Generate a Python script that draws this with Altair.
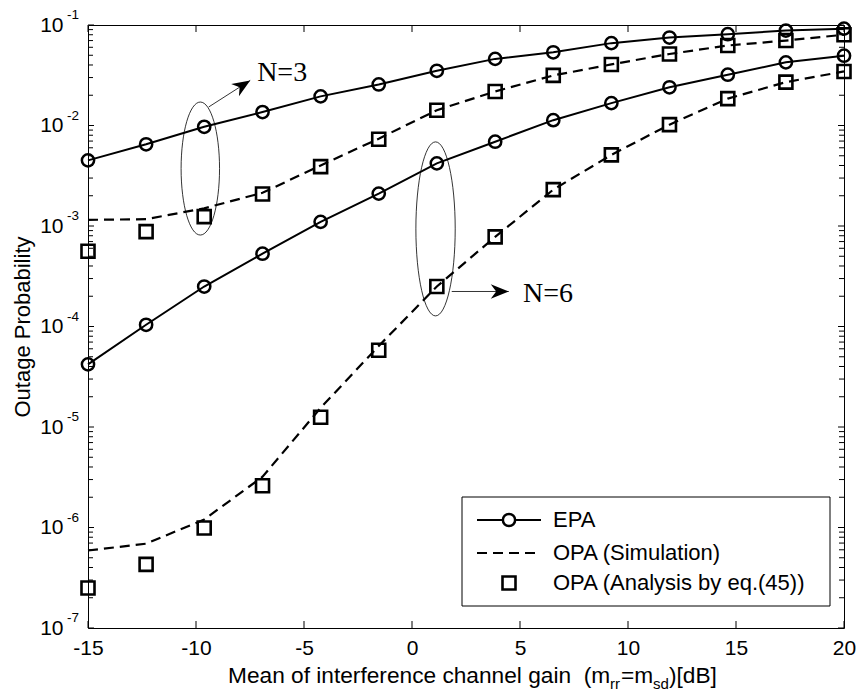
import altair as alt
import pandas as pd

# ---------------- data ----------------
x_vals = [-15, -12.31, -9.62, -6.92, -4.23, -1.54, 1.15, 3.85, 6.54, 9.23, 11.92, 14.62, 17.31, 20]

epa_n3 = [4.5e-3, 6.5e-3, 9.7e-3, 1.36e-2, 1.95e-2, 2.56e-2, 3.5e-2, 4.6e-2, 5.35e-2, 6.6e-2, 7.5e-2, 8.1e-2, 8.8e-2, 9.2e-2]
opa_sim_n3 = [1.15e-3, 1.17e-3, 1.5e-3, 2.14e-3, 4.0e-3, 7.4e-3, 1.42e-2, 2.18e-2, 3.15e-2, 4.05e-2, 5.15e-2, 6.25e-2, 7.0e-2, 8.0e-2]
opa_ana_n3 = [5.6e-4, 8.8e-4, 1.24e-3, 2.08e-3, 3.9e-3, 7.3e-3, 1.42e-2, 2.18e-2, 3.15e-2, 4.05e-2, 5.15e-2, 6.25e-2, 7.0e-2, 8.0e-2]

epa_n6 = [4.2e-5, 1.04e-4, 2.5e-4, 5.3e-4, 1.1e-3, 2.1e-3, 4.2e-3, 6.9e-3, 1.13e-2, 1.67e-2, 2.4e-2, 3.2e-2, 4.25e-2, 4.95e-2]
opa_sim_n6 = [5.9e-7, 6.9e-7, 1.2e-6, 3.2e-6, 1.55e-5, 6.4e-5, 2.5e-4, 7.8e-4, 2.3e-3, 5.1e-3, 1.02e-2, 1.85e-2, 2.7e-2, 3.45e-2]
opa_ana_n6 = [2.5e-7, 4.3e-7, 9.9e-7, 2.6e-6, 1.25e-5, 5.8e-5, 2.5e-4, 7.8e-4, 2.3e-3, 5.1e-3, 1.02e-2, 1.85e-2, 2.7e-2, 3.45e-2]

x_ticks = [-15, -10, -5, 0, 5, 10, 15, 20]
y_decades = [1e-7, 1e-6, 1e-5, 1e-4, 1e-3, 1e-2, 1e-1]
y_exponents = ["-7", "-6", "-5", "-4", "-3", "-2", "-1"]
y_minor = [m * d for d in y_decades[:-1] for m in range(2, 10)]

series_names = ["EPA", "OPA (Simulation)", "OPA (Analysis by eq.(45))"]
group_labels = ["N=3", "N=6"]

# annotation anchors (data units)
ell3 = {"x": [-9.80], "y": [3.73e-3]}
ell6 = {"x": [1.09], "y": [9.36e-4]}
arrow3 = {"x": [-9.41], "y": [1.53e-2], "x2": [-7.49], "y2": [2.81e-2]}
arrow6 = {"x": [1.84], "y": [2.23e-4], "x2": [4.48], "y2": [2.23e-4]}
label3 = {"x": [-7.17], "y": [2.76e-2]}
label6 = {"x": [5.14], "y": [1.77e-4]}

W, H = 756, 603
SANS = "Liberation Sans"
SERIF = "Liberation Serif"


def long(vals_a, vals_b):
    return pd.DataFrame({
        "x": x_vals + x_vals,
        "y": vals_a + vals_b,
        "N": [group_labels[0]] * len(x_vals) + [group_labels[1]] * len(x_vals),
    })


df_epa = long(epa_n3, epa_n6)
df_sim = long(opa_sim_n3, opa_sim_n6)
df_ana = long(opa_ana_n3, opa_ana_n6)

xscale = alt.Scale(domain=[-15, 20], nice=False, zero=False)
yscale = alt.Scale(type="log", domain=[1e-7, 1e-1], nice=False)

X = alt.X("x:Q", scale=xscale,
          axis=alt.Axis(values=x_ticks, labelExpr="'' + datum.value", ticks=False, domain=False,
                        grid=False, labelFontSize=21, labelPadding=9, title=None,
                        labelFont=SANS, labelColor="black", labelFlush=False))
Y = alt.Y("y:Q", scale=yscale,
          axis=alt.Axis(values=y_decades, labelExpr="'10'", ticks=False, domain=False,
                        grid=False, labelFontSize=21, labelPadding=25,
                        labelFont=SANS, labelColor="black", labelFlush=False,
                        title="Outage Probability", titleFontSize=22,
                        titleFont=SANS, titleFontWeight="normal", titleColor="black",
                        titlePadding=5))
Xn = alt.X("x:Q", scale=xscale)
Yn = alt.Y("y:Q", scale=yscale)

epa_lines = alt.Chart(df_epa).mark_line(color="black", strokeWidth=2).encode(x=X, y=Y, detail="N:N")
sim_lines = alt.Chart(df_sim).mark_line(color="black", strokeWidth=2.2, strokeDash=[10, 6]).encode(
    x=Xn, y=Yn, detail="N:N")
epa_pts = alt.Chart(df_epa).mark_point(shape="circle", size=150, filled=False, color="black",
                                       strokeWidth=2.5, opacity=1).encode(x=Xn, y=Yn)
ana_pts = alt.Chart(df_ana).mark_point(shape="square", size=169, filled=False, color="black",
                                       strokeWidth=2.6, opacity=1).encode(x=Xn, y=Yn)

# inward ticks
def tickpts(xs, ys, path, size):
    return alt.Chart(pd.DataFrame({"x": xs, "y": ys})).mark_point(
        shape=path, size=size, filled=False, color="black", strokeWidth=1, opacity=1
    ).encode(x=Xn, y=Yn)

ticks = [
    tickpts(x_ticks, [y_decades[0]] * len(x_ticks), "M0,0V-1", 196),
    tickpts(x_ticks, [y_decades[-1]] * len(x_ticks), "M0,0V1", 196),
    tickpts([x_ticks[0]] * len(y_decades), y_decades, "M0,0H1", 144),
    tickpts([x_ticks[-1]] * len(y_decades), y_decades, "M0,0H-1", 144),
    tickpts([x_ticks[0]] * len(y_minor), y_minor, "M0,0H1", 100),
    tickpts([x_ticks[-1]] * len(y_minor), y_minor, "M0,0H-1", 100),
]

# exponents of the y tick labels
exps = alt.Chart(pd.DataFrame({"x": [x_ticks[0]] * len(y_decades), "y": y_decades, "e": y_exponents})).mark_text(
    align="right", baseline="middle", dx=-9, dy=-10, fontSize=13.5, font=SANS, color="black"
).encode(x=Xn, y=Yn, text="e:N")

# ellipses, arrows and group labels
def ellipse(d, ratio, half_h, sw=0.8):
    path = f"M0,-1A{ratio},1 0 1,1 0,1A{ratio},1 0 1,1 0,-1Z"
    return alt.Chart(pd.DataFrame(d)).mark_point(
        shape=path, size=(2 * half_h) ** 2, filled=False, color="black", strokeWidth=sw, opacity=1
    ).encode(x=Xn, y=Yn)

head_path = "M0,0L-0.4,1L0,0.7L0.4,1Z"

def arrow(d, angle, head_len=18):
    df = pd.DataFrame(d)
    line = alt.Chart(df).mark_rule(color="black", strokeWidth=0.8).encode(
        x=Xn, y=Yn, x2="x2:Q", y2="y2:Q")
    head = alt.Chart(pd.DataFrame({"x": d["x2"], "y": d["y2"]})).mark_point(
        shape=head_path, size=(2 * head_len) ** 2, filled=True, color="black", opacity=1,
        angle=angle, strokeWidth=0
    ).encode(x=Xn, y=Yn)
    return [line, head]

def glabel(d, txt):
    df = pd.DataFrame(d)
    df["t"] = txt
    return alt.Chart(df).mark_text(align="left", baseline="alphabetic", fontSize=28,
                                   font=SERIF, color="black").encode(x=Xn, y=Yn, text="t:N")

annots = [ellipse(ell3, 0.289, 66.5), ellipse(ell6, 0.226, 87)]
annots += arrow(arrow3, 57.4) + arrow(arrow6, 90)
annots += [glabel(label3, group_labels[0]), glabel(label6, group_labels[1])]

# x-axis title with subscripts
def ptext(txt, x, y, size, align="left"):
    return alt.Chart(pd.DataFrame({"t": [txt]})).mark_text(
        align=align, baseline="alphabetic", fontSize=size, font=SANS, color="black"
    ).encode(x=alt.value(x), y=alt.value(y), text="t:N")

TB = 658
TX = 140
xtitle = [
    ptext("Mean of interference channel gain\u00a0 (m", TX, TB, 22.7),
    ptext("rr", TX + 382, TB + 6, 15),
    ptext("=m", TX + 393, TB, 22.7),
    ptext("sd", TX + 425, TB + 6, 15),
    ptext(")[dB]", TX + 441, TB, 22.7),
]

# legend (box, samples, labels)
one = pd.DataFrame({"k": [0]})
LT = 472
LX = 374
leg_box = alt.Chart(one).mark_rect(fill="white", stroke="black", strokeWidth=1).encode(
    x=alt.value(LX), x2=alt.value(LX + 368), y=alt.value(LT), y2=alt.value(LT + 109))
leg_l1 = alt.Chart(one).mark_rule(color="black", strokeWidth=2).encode(
    x=alt.value(LX + 15), x2=alt.value(LX + 79), y=alt.value(LT + 23))
leg_c1 = alt.Chart(one).mark_point(shape="circle", size=150, filled=False, color="black",
                                   strokeWidth=2.5, opacity=1, fill="white").encode(
    x=alt.value(LX + 47), y=alt.value(LT + 23))
leg_l2 = alt.Chart(one).mark_rule(color="black", strokeWidth=2.2, strokeDash=[10, 6]).encode(
    x=alt.value(LX + 15), x2=alt.value(LX + 79), y=alt.value(LT + 56))
leg_s3 = alt.Chart(one).mark_point(shape="square", size=169, filled=False, color="black",
                                   strokeWidth=2.6, opacity=1).encode(
    x=alt.value(LX + 47), y=alt.value(LT + 86))
leg_txt = [
    alt.Chart(pd.DataFrame({"t": [name]})).mark_text(
        align="left", baseline="middle", fontSize=22, font=SANS, color="black"
    ).encode(x=alt.value(LX + 91), y=alt.value(yy), text="t:N")
    for name, yy in zip(series_names, [LT + 23, LT + 56, LT + 86])
]
legend = [leg_box, leg_l1, leg_c1, leg_l2, leg_s3] + leg_txt

chart = alt.layer(
    epa_lines, sim_lines, epa_pts, ana_pts, exps, *ticks, *annots, *xtitle, *legend
).properties(
    width=W, height=H,
    autosize=alt.AutoSizeParams(type="none"),
    padding={"left": 80, "top": 17, "right": 12, "bottom": 63},
    background="white",
).configure_view(stroke="black", strokeWidth=1)

chart.save("out.html", embed_options={"renderer": "svg", "actions": False})
